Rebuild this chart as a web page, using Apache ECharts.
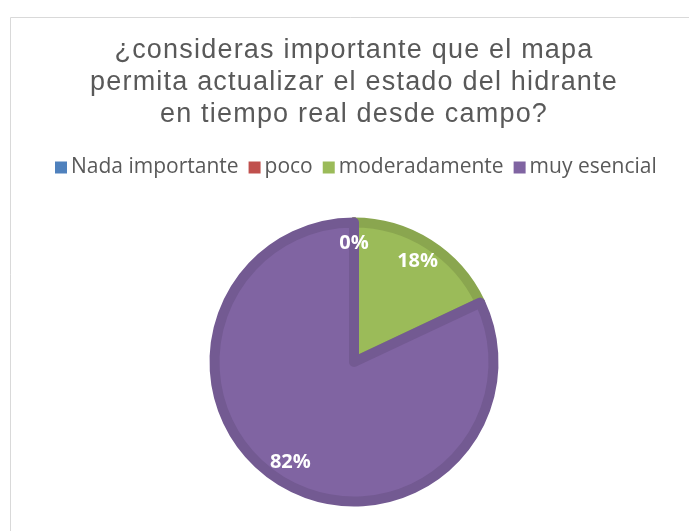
<!DOCTYPE html>
<html>
<head>
<meta charset="utf-8">
<script src="https://cdn.jsdelivr.net/npm/echarts@6/dist/echarts.min.js"></script>
<style>
  html, body { margin: 0; padding: 0; background: #fff; }
  #main { width: 689px; height: 531px; }
</style>
</head>
<body>
<div id="main"></div>
<script>
// datos de la encuesta
var categories = ['Nada importante', 'poco', 'moderadamente', 'muy esencial'];
var values = [0, 0, 18, 82];
var colors = ['#4F81BD', '#C0504D', '#9BBB59', '#8064A2'];
var borderColors = ['#46729f', '#a9443f', '#8aa64f', '#735a92'];

var titleText = '¿consideras importante que el mapa\npermita actualizar el estado del hidrante\nen tiempo real desde campo?';

// el titulo original tiene letras espaciadas
var origFillText = CanvasRenderingContext2D.prototype.fillText;
CanvasRenderingContext2D.prototype.fillText = function (t, x, y, w) {
    this.letterSpacing = this.font.indexOf('27px') >= 0 ? '1.2px' : '0px';
    return w === undefined ? origFillText.call(this, t, x, y) : origFillText.call(this, t, x, y, w);
};

var pieData = categories.map(function (name, i) {
    return {
        name: name,
        value: values[i],
        itemStyle: { color: colors[i], borderColor: borderColors[i] }
    };
});
// serie solo para las etiquetas (mas hacia el borde)
var labelData = categories.map(function (name, i) {
    return { name: name, value: values[i] };
});

var myChart = echarts.init(document.getElementById('main'));
myChart.setOption({
    animation: false,
    legend: {
        data: categories.map(function (name, i) {
            return { name: name, itemStyle: { color: colors[i], borderWidth: 0 } };
        }),
        top: 152,
        left: 50,
        itemWidth: 12,
        itemHeight: 12,
        itemGap: 10,
        icon: 'rect',
        itemStyle: { borderWidth: 0 },
        textStyle: {
            fontFamily: 'Open Sans',
            fontSize: 21,
            color: '#595959',
            padding: [0, 0, 0, -1]
        }
    },
    graphic: [
        {
            type: 'rect',
            silent: true,
            shape: { x: 10.5, y: 17.5, width: 700, height: 540 },
            style: { fill: 'none', stroke: '#d9d9d9', lineWidth: 1 }
        },
        {
            // titulo
            type: 'text',
            silent: true,
            x: 354,
            y: 35,
            style: {
                text: titleText,
                align: 'center',
                verticalAlign: 'top',
                fontFamily: 'Liberation Sans',
                fontSize: 27,
                lineHeight: 32,
                fill: '#595959'
            }
        }
    ],
    series: [
        {
            type: 'pie',
            center: [354, 362],
            radius: [0, 139.5],
            startAngle: 90,
            clockwise: true,
            silent: true,
            itemStyle: { borderWidth: 10 },
            label: { show: false },
            labelLine: { show: false },
            data: pieData
        },
        {
            type: 'pie',
            center: [354, 362],
            radius: [92, 139.5],
            startAngle: 90,
            clockwise: true,
            silent: true,
            itemStyle: { color: 'transparent', borderWidth: 0 },
            label: {
                show: true,
                position: 'inside',
                formatter: function (p) { return Math.round(p.percent) + '%'; },
                fontFamily: 'Open Sans',
                fontWeight: 'bold',
                fontSize: 20,
                color: '#ffffff'
            },
            labelLine: { show: false },
            data: labelData
        }
    ]
});
</script>
</body>
</html>
